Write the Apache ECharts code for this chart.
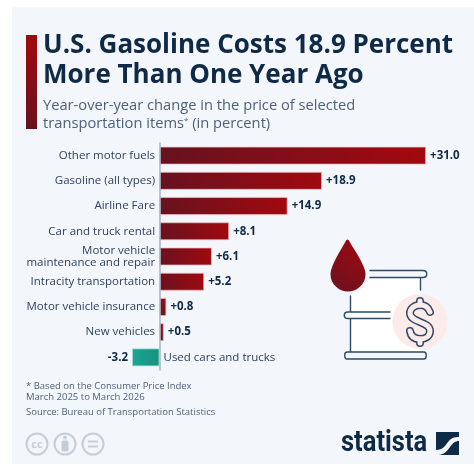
<!DOCTYPE html>
<html>
<head>
<meta charset="utf-8">
<style>html,body{margin:0;padding:0;background:#fff}#chart{width:474px;height:464px}</style>
<script src="https://cdn.jsdelivr.net/npm/echarts@6/dist/echarts.min.js"></script>
</head>
<body>
<div id="chart"></div>
<script>
const categories = [
  'Other motor fuels', 'Gasoline (all types)', 'Airline Fare', 'Car and truck rental',
  'Motor vehicle\nmaintenance and repair', 'Intracity transportation',
  'Motor vehicle insurance', 'New vehicles', 'Used cars and trucks'
];
const changes = [31.0, 18.9, 14.9, 8.1, 6.1, 5.2, 0.8, 0.5, -3.2];
const titleLines = ['U.S. Gasoline Costs 18.9 Percent', 'More Than One Year Ago'];
const subtitleLines = ['Year-over-year change in the price of selected', 'transportation items{s|*} (in percent)'];
const noteLines = ['* Based on the Consumer Price Index', 'March 2025 to March 2026'];
const sourceLine = 'Source: Bureau of Transportation Statistics';
const brandName = 'statista';

const NAVY = '#0f2a47';
const SLATE = '#2f4a66';
const PANEL = '#f3f6fb';
const FONT = '"Open Sans", sans-serif';
const redGradient = {
  type: 'linear', x: 0, y: 1, x2: 1, y2: 0,
  colorStops: [{ offset: 0, color: '#67121f' }, { offset: 1, color: '#a2090f' }]
};
const tealGradient = {
  type: 'linear', x: 0, y: 0, x2: 1, y2: 0,
  colorStops: [{ offset: 0, color: '#1aa692' }, { offset: 1, color: '#17917f' }]
};

// SVG path strings become named zrender shapes so the graphic component can place them
let pathCount = 0;
function pathShape(d, style) {
  const name = 'decor' + pathCount++;
  echarts.graphic.registerShape(name, echarts.graphic.extendPath(d));
  return { type: name, silent: true, style };
}
function text(x, y, str, size, color, weight, extra) {
  return {
    type: 'text', x, y, silent: true,
    style: Object.assign({ text: str, font: `${weight || 400} ${size}px ${FONT}`, fill: color, textVerticalAlign: 'middle' }, extra || {})
  };
}
const stroked = (d, color, width) =>
  pathShape(d, { fill: 'none', stroke: color, lineWidth: width, lineCap: 'round', lineJoin: 'round' });
const badge = cx => ({
  type: 'circle', silent: true, shape: { cx, cy: 444, r: 10.5 },
  style: { fill: 'none', stroke: '#c5cdd7', lineWidth: 2 }
});

const dollarPath = 'M430,312 C428,306 424,305 420,305 C414,305 410,309 410,313 C410,318 415,320 420,322 C425,324 430,326 430,331 C430,336 426,339 420,339 C415,339 411,337 410,331';
const stubPath = 'M420,301 L420,305 M420,339 L420,343';
const dropPath = 'M347.5,238 C349,238 350,239 351,241 C354,247 367,264 367,274 C367,285 358,293 348,293 C338,293 329,285 329,274 C329,264 341,247 344,241 C345,239 346,238 347.5,238 Z';
const swooshPath = 'M436,450 C443,450 445,446 448,442 C451,438 454,437 459,437 L459,441 C455,441 453,443 450,447 C447,451 444,455 438,455 L436,455 Z';
const topRimPath = 'M370,270.5 L423,270.5 C428,270.5 428,277.5 423,277.5 L370,277.5';
const midRimPath = 'M390,312 L348,312 C343,312 343,318.5 348,318.5 L390,318.5';
const baseRimPath = 'M347,352 L424,352 C427,352 427,359 424,359 L347,359 C344,359 344,352 347,352 Z';

const decorations = [
  { type: 'rect', silent: true, z: -10, shape: { x: 12, y: 7, width: 462, height: 457 }, style: { fill: PANEL } },
  {
    type: 'rect', silent: true, shape: { x: 26, y: 35, width: 11, height: 94 },
    style: { fill: { type: 'linear', x: 0, y: 0, x2: 0, y2: 1, colorStops: [{ offset: 0, color: '#a2090f' }, { offset: 1, color: '#67121f' }] } }
  },
  text(43, 46, titleLines[0], 26, NAVY, 700),
  text(43, 76, titleLines[1], 26, NAVY, 700),
  text(43, 106, subtitleLines[0], 14.7, '#4f617a'),
  {
    type: 'text', x: 43, y: 124, silent: true,
    style: {
      text: subtitleLines[1], font: `400 14.7px ${FONT}`, fill: '#4f617a', textVerticalAlign: 'middle',
      rich: { s: { font: `400 8px ${FONT}`, fill: '#4f617a', verticalAlign: 'top', padding: [0, 0, 6, 0] } }
    }
  },
  text(26, 386, noteLines[0], 9.5, '#4f617a'),
  text(26, 397.5, noteLines[1], 9.5, '#4f617a'),
  text(26, 412, sourceLine, 9.5, '#4f617a'),

  // barrel with price badge
  { type: 'polygon', silent: true, shape: { points: [[350, 276], [420, 276], [420, 353], [350, 353]] }, style: { fill: '#fff' } },
  { type: 'rect', silent: true, shape: { x: 370, y: 270, width: 54, height: 8 }, style: { fill: PANEL } },
  stroked(topRimPath, SLATE, 1.4),
  stroked('M420.5,278 L420.5,290', SLATE, 1.4),
  stroked('M350.5,296 L350.5,352', SLATE, 1.4),
  { type: 'rect', silent: true, shape: { x: 348, y: 312, width: 42, height: 6.5 }, style: { fill: '#fff' } },
  stroked(midRimPath, SLATE, 1.4),
  pathShape(baseRimPath, { fill: PANEL, stroke: SLATE, lineWidth: 1.4 }),
  { type: 'circle', silent: true, shape: { cx: 420, cy: 321.5, r: 27.5 }, style: { fill: '#fdebea' } },
  stroked(stubPath, SLATE, 8),
  stroked(dollarPath, SLATE, 8),
  stroked(stubPath, '#fdebea', 5),
  stroked(dollarPath, '#fdebea', 5),
  pathShape(dropPath, { fill: redGradient, stroke: PANEL, lineWidth: 3 }),

  // licence badges
  badge(37),
  text(37, 444.5, 'cc', 11, '#c5cdd7', 700, { textAlign: 'center' }),
  badge(65),
  { type: 'circle', silent: true, shape: { cx: 65, cy: 437.5, r: 2 }, style: { fill: '#c5cdd7' } },
  { type: 'rect', silent: true, shape: { x: 61.5, y: 440.5, width: 7, height: 11, r: 1.5 }, style: { fill: '#c5cdd7' } },
  badge(93),
  { type: 'rect', silent: true, shape: { x: 88, y: 440.5, width: 10, height: 2 }, style: { fill: '#c5cdd7' } },
  { type: 'rect', silent: true, shape: { x: 88, y: 445.5, width: 10, height: 2 }, style: { fill: '#c5cdd7' } },

  // brand mark
  {
    type: 'text', x: 341, y: 444, scaleX: 0.88, silent: true,
    style: { text: brandName, font: `700 29px "Liberation Sans Narrow", "Roboto", sans-serif`, fill: NAVY, textVerticalAlign: 'middle' }
  },
  { type: 'rect', silent: true, shape: { x: 436, y: 432, width: 23, height: 23 }, style: { fill: NAVY } },
  pathShape(swooshPath, { fill: PANEL })
];

const chart = echarts.init(document.getElementById('chart'), null, { renderer: 'canvas' });
chart.setOption({
  animation: false,
  backgroundColor: '#fff',
  textStyle: { fontFamily: FONT },
  grid: { left: 125.1, width: 309.6, top: 143, height: 227, outerBoundsMode: 'none', containLabel: false },
  xAxis: { type: 'value', min: -4, max: 32, show: false },
  yAxis: {
    type: 'category', data: categories, inverse: true,
    axisLine: { onZero: true, lineStyle: { color: '#a9b3c0', width: 1.5 } },
    axisTick: { show: false },
    axisLabel: {
      // the axis line sits at zero, inside the grid; names hang off it rather than the grid edge
      margin: -30, fontSize: 11.5, lineHeight: 11.5, color: '#2f4160', align: 'right',
      formatter: (name, i) => (changes[i] < 0 ? '' : name)
    },
    z: 5
  },
  series: [
    {
      type: 'bar', barWidth: 18,
      data: changes.map(v => ({
        value: v,
        itemStyle: { color: v < 0 ? tealGradient : redGradient, borderColor: v < 0 ? 'rgba(170,225,215,.7)' : 'rgba(240,190,195,.7)', borderWidth: 1 },
        label: { position: v < 0 ? 'left' : 'right' }
      })),
      label: {
        show: true, distance: 4, fontSize: 11.5, fontWeight: 700, color: NAVY,
        formatter: p => (p.value > 0 ? '+' : '') + p.value.toFixed(1)
      }
    },
    {
      // names of falling items sit on the far side of the axis
      type: 'bar', barWidth: 18, barGap: '-100%', silent: true,
      data: changes.map(v => (v < 0 ? 0 : null)),
      itemStyle: { color: 'transparent' },
      label: {
        show: true, position: 'right', distance: 4, fontSize: 11.5, color: '#2f4160',
        formatter: p => categories[p.dataIndex]
      }
    }
  ],
  graphic: { elements: decorations }
});
</script>
</body>
</html>
